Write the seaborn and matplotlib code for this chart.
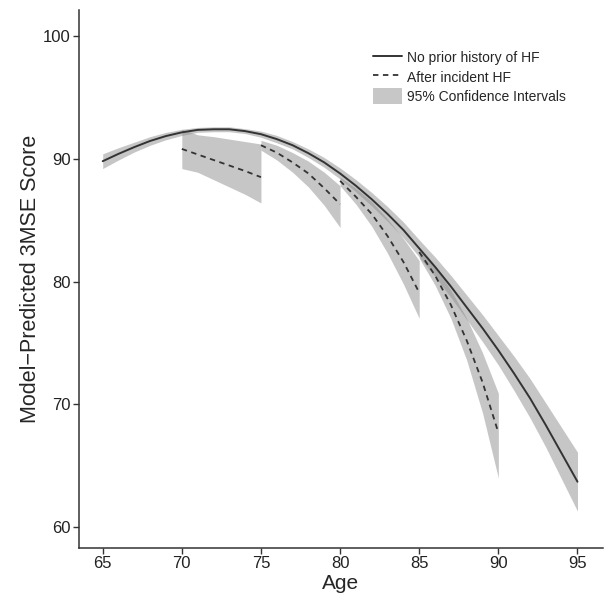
import pandas as pd
import matplotlib
matplotlib.use("Agg")
import matplotlib.pyplot as plt
import seaborn as sns
from matplotlib.lines import Line2D
from matplotlib.patches import Patch

# Trajectory with no prior history of HF (one value per year)
ages = list(range(65, 96))
no_hf = [89.8, 90.4, 90.95, 91.45, 91.85, 92.15, 92.35, 92.4, 92.4, 92.25,
         92.0, 91.6, 91.1, 90.45, 89.7, 88.8, 87.8, 86.7, 85.5, 84.2,
         82.7, 81.2, 79.6, 77.9, 76.2, 74.4, 72.5, 70.5, 68.3, 66.0, 63.7]
no_hf_halfwidth = [0.6, 0.5, 0.4, 0.35, 0.3, 0.25, 0.2, 0.2, 0.2, 0.2,
                   0.25, 0.3, 0.3, 0.35, 0.4, 0.45, 0.5, 0.55, 0.6, 0.65,
                   0.7, 0.8, 0.9, 1.0, 1.1, 1.2, 1.4, 1.6, 1.8, 2.1, 2.4]

# Trajectories after incident HF, one 5-year segment per onset age
seg_ages = [[70, 71, 72, 73, 74, 75],
            [75, 76, 77, 78, 79, 80],
            [80, 81, 82, 83, 84, 85],
            [85, 86, 87, 88, 89, 90]]
after_hf = [[90.8, 90.35, 89.9, 89.45, 89.0, 88.5],
            [91.1, 90.5, 89.7, 88.8, 87.6, 86.3],
            [88.2, 86.9, 85.5, 83.7, 81.6, 79.1],
            [82.4, 80.5, 78.1, 75.2, 71.8, 67.7]]
after_hf_lo = [[89.2, 88.9, 88.3, 87.7, 87.1, 86.4],
               [90.7, 89.9, 88.9, 87.7, 86.2, 84.4],
               [87.8, 86.3, 84.5, 82.3, 79.8, 77.0],
               [81.9, 79.7, 77.0, 73.6, 69.3, 64.0]]
after_hf_hi = [[92.4, 91.95, 91.8, 91.6, 91.4, 91.2],
               [91.5, 91.1, 90.5, 89.8, 88.9, 87.8],
               [88.5, 87.6, 86.5, 85.1, 83.5, 81.7],
               [82.7, 81.2, 79.3, 77.0, 74.2, 70.9]]

x_ticks = [65, 70, 75, 80, 85, 90, 95]
y_ticks = [60, 70, 80, 90, 100]

sns.set_theme(style="ticks")
plt.rcParams["font.family"] = ["Liberation Sans", "DejaVu Sans"]

line_col = "#333333"
band_col = "#8f8f8f"

fig = plt.figure(figsize=(6.12, 5.98), dpi=100)
ax = fig.add_axes([0.129, 0.0836, 0.856, 0.8994])

# no prior HF: band + solid line
df = pd.DataFrame({"age": ages, "score": no_hf, "hw": no_hf_halfwidth})
ax.fill_between(df["age"], df["score"] - df["hw"], df["score"] + df["hw"],
                color=band_col, alpha=0.5, linewidth=0)
sns.lineplot(data=df, x="age", y="score", ax=ax, color=line_col, linewidth=1.4)

# after incident HF: band + dashed line per segment
for xs, ys, lo, hi in zip(seg_ages, after_hf, after_hf_lo, after_hf_hi):
    seg = pd.DataFrame({"age": xs, "score": ys, "lo": lo, "hi": hi})
    ax.fill_between(seg["age"], seg["lo"], seg["hi"],
                    color=band_col, alpha=0.5, linewidth=0)
    sns.lineplot(data=seg, x="age", y="score", ax=ax, color=line_col,
                 linewidth=1.3, linestyle=(0, (3, 2.5)))

ax.set_xlim(63.5, 96.6)
ax.set_ylim(58.3, 102.1)
ax.set_xticks(x_ticks)
ax.set_yticks(y_ticks)
ax.tick_params(labelsize=12, length=4, width=1, color="#333333",
               labelcolor="#222222", pad=2)
for side in ["top", "right"]:
    ax.spines[side].set_visible(False)
for side in ["left", "bottom"]:
    ax.spines[side].set_color("#333333")
    ax.spines[side].set_linewidth(1.1)

ax.set_xlabel("Age", fontsize=15, labelpad=2)
ax.set_ylabel("Model\u2212Predicted 3MSE Score", fontsize=15.5, labelpad=1)

handles = [Line2D([], [], color=line_col, linewidth=1.4),
           Line2D([], [], color=line_col, linewidth=1.3, linestyle=(0, (3, 2.5))),
           Patch(facecolor="#c7c7c7", edgecolor="none")]
labels = ["No prior history of HF", "After incident HF", "95% Confidence Intervals"]
ax.legend(handles, labels, loc="upper left", bbox_to_anchor=(0.561, 0.927),
          frameon=False, fontsize=10, handlelength=2.1, handleheight=1.4,
          handletextpad=0.35, labelspacing=0.25, borderpad=0, borderaxespad=0)

fig.savefig("out.png", dpi=100)
